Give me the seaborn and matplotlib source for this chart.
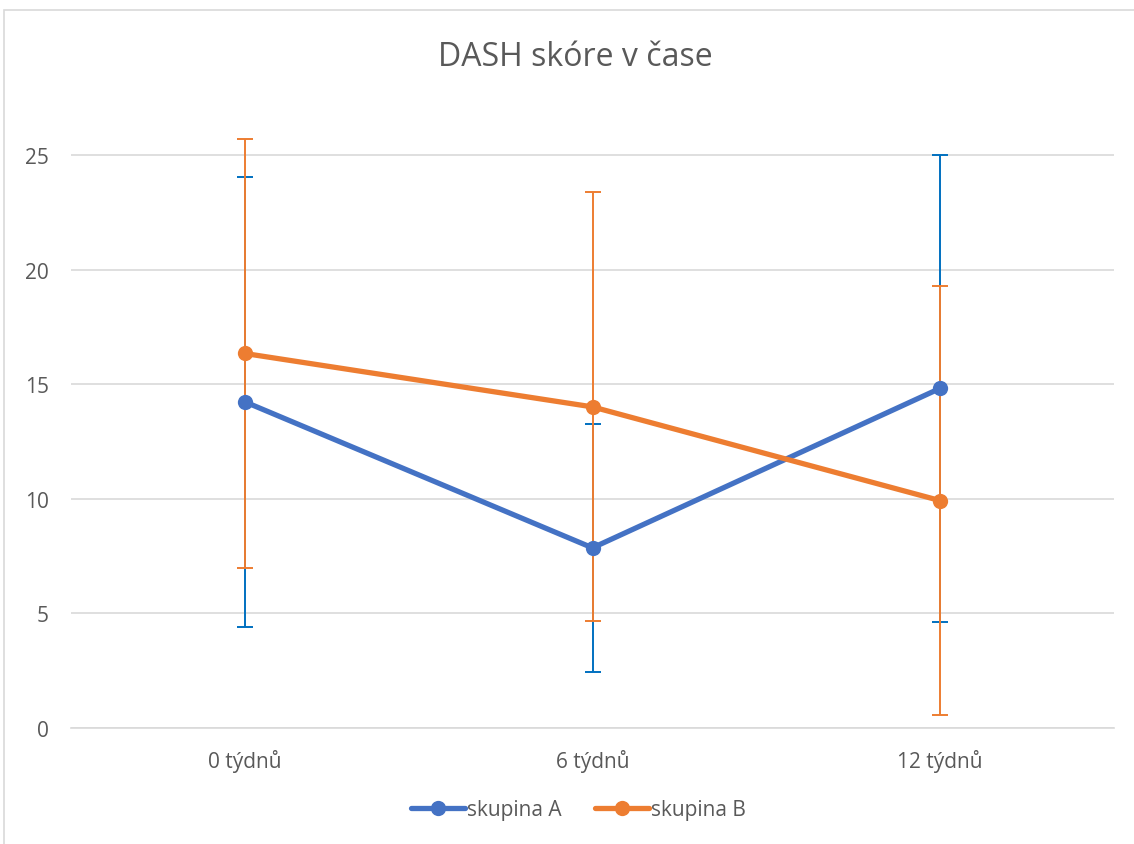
import matplotlib
matplotlib.use("Agg")
import matplotlib.pyplot as plt
import seaborn as sns
import pandas as pd
import numpy as np
from matplotlib.patches import Rectangle
from matplotlib.lines import Line2D

categories = ["0 týdnů", "6 týdnů", "12 týdnů"]
group_a = [14.23, 7.86, 14.82]
group_a_err = [9.81, 5.42, 10.18]
group_b = [16.34, 14.01, 9.92]
group_b_err = [9.36, 9.36, 9.36]
series_names = ["skupina A", "skupina B"]
yticks = [0, 5, 10, 15, 20, 25]
title = "DASH skóre v čase"

line_colors = ["#4472C4", "#ED7D31"]
err_colors = ["#0070C0", "#ED7D31"]
text_color = "#595959"

sns.set_style("white")
plt.rcParams['font.family'] = ['Open Sans', 'DejaVu Sans']

df = pd.DataFrame({
    "cat": categories * 2,
    "x": list(range(len(categories))) * 2,
    "value": group_a + group_b,
    "group": [series_names[0]] * 3 + [series_names[1]] * 3,
})

fig = plt.figure(figsize=(11.34, 8.45), dpi=100)
ax = fig.add_axes([71 / 1134, 1 - 729 / 845, (1114 - 71) / 1134, (729 - 130) / 845])

for m, e, c in [(group_a, group_a_err, err_colors[0]),
                (group_b, group_b_err, err_colors[1])]:
    ax.errorbar(list(range(len(m))), m, yerr=e, fmt="none", ecolor=c, elinewidth=1.4,
                capsize=6, capthick=1.4, clip_on=False, zorder=3)

sns.lineplot(data=df, x="x", y="value", hue="group", palette=line_colors,
             marker="o", markersize=11, markeredgewidth=0, linewidth=3.8,
             ax=ax, zorder=4, legend=False)

ax.set_xlim(-0.5, 2.5)
ax.set_ylim(0, 25 * (729 - 130) / (729 - 156))
ax.set_yticks(yticks)
ax.set_xticks(range(3))
ax.set_xticklabels(categories)
ax.grid(axis="y", color="#D9D9D9", linewidth=1.2)
ax.set_axisbelow(True)
for s in ["top", "right", "left"]:
    ax.spines[s].set_visible(False)
ax.spines["bottom"].set_color("#D9D9D9")
ax.spines["bottom"].set_linewidth(1.2)
ax.tick_params(axis="both", length=0, labelsize=15, labelcolor=text_color)
ax.tick_params(axis="y", pad=16)
ax.tick_params(axis="x", pad=15)
ax.set_xlabel("")
ax.set_ylabel("")

fig.text(575 / 1134, 1 - 58 / 845, title, ha="center", va="center", fontsize=23,
         color=text_color)

handles = [Line2D([0], [0], color=c, lw=3.8, marker="o", markersize=11,
                  markeredgewidth=0) for c in line_colors]
fig.legend(handles, series_names, loc="center", bbox_to_anchor=(0.51, 1 - 811 / 845),
           ncol=2, frameon=False, fontsize=15, labelcolor=text_color,
           handlelength=2.6, handletextpad=0.1, columnspacing=1.6)

fig.patches.append(Rectangle((4 / 1134, -0.01), 1.05, 1 - 11 / 845 + 0.01,
                             transform=fig.transFigure, fill=False,
                             edgecolor="#D9D9D9", linewidth=1.2))

fig.savefig("out.png", dpi=100, facecolor="white")
